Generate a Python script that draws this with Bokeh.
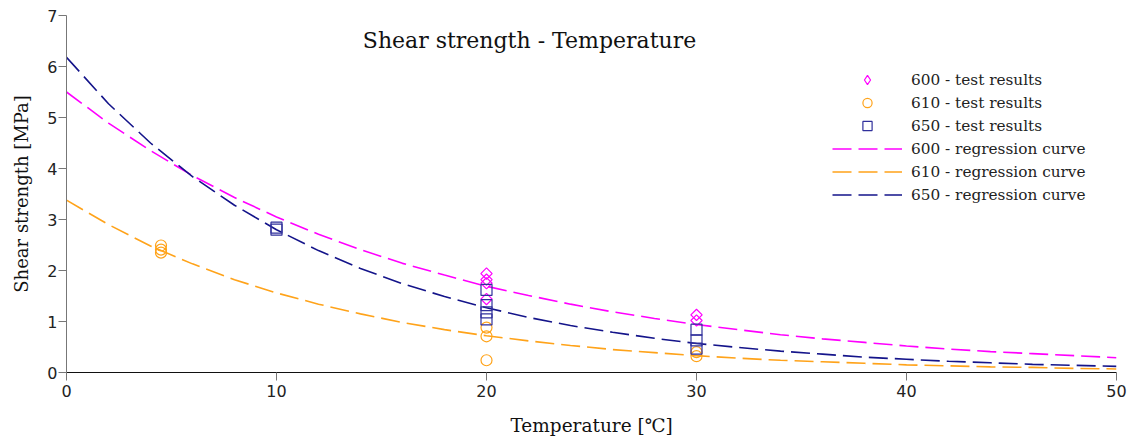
import math
from bokeh.plotting import figure
from bokeh.models import Range1d, Legend, LegendItem, Label, FixedTicker
from bokeh.embed import file_html
from bokeh.resources import INLINE

# ---- data ----
t600_x = [20, 20, 20, 20, 30, 30]
t600_y = [1.94, 1.82, 1.75, 1.44, 1.13, 1.02]

t610_x = [4.5, 4.5, 4.5, 20, 20, 20, 30, 30]
t610_y = [2.49, 2.41, 2.35, 0.88, 0.71, 0.24, 0.40, 0.32]

t650_x = [10, 10, 20, 20, 20, 20, 30, 30, 30]
t650_y = [2.84, 2.80, 1.62, 1.32, 1.18, 1.04, 0.84, 0.63, 0.47]

curve_x = [0, 2, 4, 6, 8, 10, 12, 14, 16, 18, 20, 22, 24, 26, 28, 30,
           32, 34, 36, 38, 40, 42, 44, 46, 48, 50]
curve600 = [5.50, 4.89, 4.35, 3.86, 3.43, 3.05, 2.71, 2.41, 2.14, 1.91, 1.69,
            1.51, 1.34, 1.19, 1.06, 0.94, 0.84, 0.74, 0.66, 0.59, 0.52, 0.46,
            0.41, 0.37, 0.33, 0.29]
curve610 = [3.38, 2.90, 2.48, 2.13, 1.82, 1.56, 1.34, 1.15, 0.98, 0.84, 0.72,
            0.62, 0.53, 0.45, 0.39, 0.33, 0.28, 0.24, 0.21, 0.18, 0.15, 0.13,
            0.11, 0.10, 0.08, 0.07]
curve650 = [6.18, 5.27, 4.50, 3.84, 3.28, 2.80, 2.39, 2.04, 1.74, 1.49, 1.27,
            1.08, 0.92, 0.79, 0.67, 0.57, 0.49, 0.42, 0.36, 0.30, 0.26, 0.22,
            0.19, 0.16, 0.14, 0.12]

x_ticks = [0, 10, 20, 30, 40, 50]
y_ticks = [0, 1, 2, 3, 4, 5, 6, 7]

labels_test = ["600 - test results", "610 - test results", "650 - test results"]
labels_curve = ["600 - regression curve", "610 - regression curve", "650 - regression curve"]
title_text = "Shear strength - Temperature"
x_label = "Temperature [℃]"
y_label = "Shear strength [MPa]"

MAGENTA = "#ff00ff"
ORANGE = "#ffa31a"
NAVY = "#14148a"
NAVY_M = "#30309c"
SERIF = "DejaVu Serif"

p = figure(width=1128, height=441, output_backend="svg", toolbar_location=None,
           x_range=Range1d(0, 50), y_range=Range1d(0, 7),
           min_border_left=66, min_border_top=15, min_border_right=12,
           min_border_bottom=69)
p.outline_line_color = None
p.xgrid.visible = False
p.ygrid.visible = False
p.background_fill_color = "white"

for ax in (p.xaxis[0], p.yaxis[0]):
    ax.minor_tick_line_color = None
    ax.major_tick_in = 0
    ax.major_tick_out = 8
    ax.major_tick_line_color = "#777777"
    ax.major_label_text_font = "DejaVu Sans"
    ax.major_label_text_font_size = "16px"
    ax.major_label_text_color = "#222222"
    ax.axis_label_text_font = SERIF
    ax.axis_label_text_font_style = "normal"
    ax.axis_label_text_color = "#111111"

p.xaxis[0].ticker = FixedTicker(ticks=x_ticks)
p.yaxis[0].ticker = FixedTicker(ticks=y_ticks)
p.xaxis[0].axis_line_color = "#111111"
p.yaxis[0].axis_line_color = "#777777"
p.xaxis[0].axis_label = x_label
p.yaxis[0].axis_label = y_label
p.xaxis[0].major_label_standoff = 4
p.yaxis[0].major_label_standoff = 1
p.xaxis[0].axis_label_text_font_size = "18.5px"
p.yaxis[0].axis_label_text_font_size = "18px"
p.xaxis[0].axis_label_standoff = 15
p.yaxis[0].axis_label_standoff = 12

dash = "19 7"
l600 = p.line(curve_x, curve600, line_color=MAGENTA, line_width=1.6, line_dash=dash)
l610 = p.line(curve_x, curve610, line_color=ORANGE, line_width=1.6, line_dash=dash)
l650 = p.line(curve_x, curve650, line_color=NAVY, line_width=1.6, line_dash=dash)

s600 = p.scatter(t600_x, t600_y, marker="square", angle=math.pi / 4, size=8,
                 fill_alpha=0, line_color=MAGENTA, line_width=1.2)
s610 = p.scatter(t610_x, t610_y, marker="circle", size=11,
                 fill_alpha=0, line_color=ORANGE, line_width=1.2)
s650 = p.scatter(t650_x, t650_y, marker="square", size=11,
                 fill_alpha=0, line_color=NAVY_M, line_width=1.2)

# hidden twin of the 600 markers, used only so the legend shows a diamond
s600_leg = p.scatter(t600_x, t600_y, marker="diamond", size=12,
                     fill_alpha=0, line_color=MAGENTA, line_width=1.2)
s600_leg.visible = False

items = [LegendItem(label=labels_test[0], renderers=[s600_leg]),
         LegendItem(label=labels_test[1], renderers=[s610]),
         LegendItem(label=labels_test[2], renderers=[s650]),
         LegendItem(label=labels_curve[0], renderers=[l600]),
         LegendItem(label=labels_curve[1], renderers=[l610]),
         LegendItem(label=labels_curve[2], renderers=[l650])]
legend = Legend(items=items, location=(766, 166), border_line_color=None,
                background_fill_alpha=0, padding=0, margin=0, spacing=0,
                glyph_width=70, glyph_height=23, label_height=23,
                label_standoff=9, label_text_font=SERIF,
                label_text_font_size="15.3px", label_text_color="#222222")
p.add_layout(legend, "center")

p.add_layout(Label(x=463, y=332, x_units="screen", y_units="screen",
                   text=title_text, text_align="center", text_baseline="middle",
                   text_font=SERIF, text_font_size="22px", text_color="#111111"))

open("out.html", "w").write(file_html(p, INLINE))
